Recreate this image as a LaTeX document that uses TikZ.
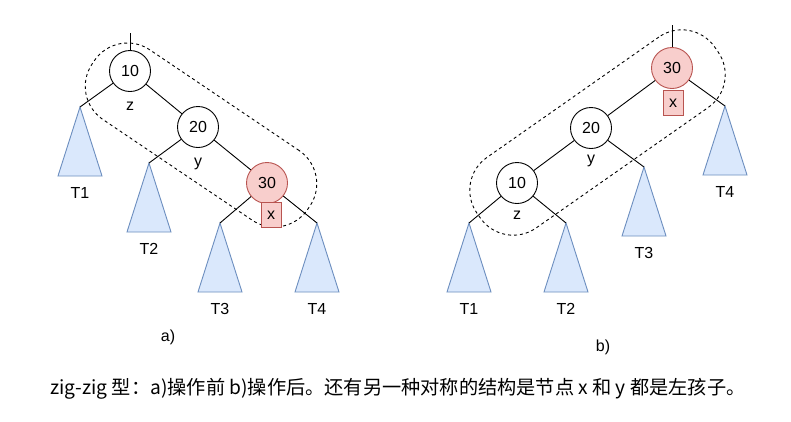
\documentclass[tikz,border=0pt]{standalone}
\usepackage{fontspec}
\setmainfont{Liberation Sans}
\newfontfamily\cjk{Noto Sans CJK SC}
\usetikzlibrary{positioning}

\definecolor{subfill}{HTML}{DAE8FC}
\definecolor{subdraw}{HTML}{6C8EBF}
\definecolor{hotfill}{HTML}{F8CECC}
\definecolor{hotdraw}{HTML}{B85450}

\begin{document}
\begin{tikzpicture}[
    x=1pt, y=-1pt,
    font=\fontsize{16}{19}\selectfont,
    % node styles
    keynode/.style={circle, draw=black, fill=white, line width=0.9pt,
      minimum size=41pt, inner sep=0pt},
    hotnode/.style={keynode, draw=hotdraw, fill=hotfill},
    tagbox/.style={rectangle, draw=hotdraw, fill=hotfill, line width=0.9pt,
      minimum width=20pt, minimum height=25pt, inner sep=0pt},
    subtree/.style={draw=subdraw, fill=subfill, line width=0.9pt},
    edge/.style={line width=0.9pt},
    hull/.style={rectangle, draw, dash pattern=on 3pt off 3pt, line width=0.9pt,
      rounded corners=40pt, minimum height=84pt, inner sep=0pt},
    caption/.style={font=\cjk\fontsize{19.2}{22}\selectfont},
  ]
  \fill[white] (0,0) rectangle (791,421);
  \useasboundingbox (0,0) rectangle (791,421);

  % ------------------------------------------------------------
  % dashed groups
  % ------------------------------------------------------------
  \node[hull, rotate=-34, minimum width=260pt] (hullA) at (201,135) {};
  \node[hull, rotate=35, minimum width=290pt, minimum height=86pt] (hullB) at (597.5,132.5) {};

  % ------------------------------------------------------------
  % subtrees
  % ------------------------------------------------------------
  \foreach \name/\ax/\ay/\lab in {t1a/80/107/T1, t2a/149/163/T2, t3a/220/223/T3, t4a/317/223/T4,
      t1b/469/223/T1, t2b/566/223/T2, t3b/644/167/T3, t4b/725/106/T4} {
    \coordinate (\name) at (\ax,\ay);
    \draw[subtree] (\name) -- ++(22,69) -- ++(-44,0) -- cycle;
    \node (\name lab) at (\ax,\ay+86) {\lab};
  }

  % ------------------------------------------------------------
  % a) before
  % ------------------------------------------------------------
  \coordinate (topA) at (130,33);
  \node[keynode] (n10a) at (130,71) {10};
  \node[keynode] (n20a) at (198,127) {20};
  \node[hotnode] (n30a) at (267,183) {30};
  \node (za) at (130,106) {z};
  \node (ya) at (198,164) {y};

  \draw[edge] (topA) -- (n10a);
  \draw[edge] (n10a) -- (t1a);
  \draw[edge] (n10a) -- (n20a);
  \draw[edge] (n20a) -- (t2a);
  \draw[edge] (n20a) -- (n30a);
  \draw[edge] (n30a) -- (t3a);
  \draw[edge] (n30a) -- (t4a);

  \node[tagbox] (xa) at (271,215) {x};
  \node (capA) at (168,337) {a)};

  % ------------------------------------------------------------
  % b) after
  % ------------------------------------------------------------
  \coordinate (topB) at (672,25);
  \node[hotnode] (n30b) at (672,68) {30};
  \node[keynode] (n20b) at (591,128) {20};
  \node[keynode] (n10b) at (517,183) {10};
  \node (yb) at (591,161) {y};
  \node (zb) at (517,215) {z};

  \draw[edge] (topB) -- (n30b);
  \draw[edge] (n30b) -- (n20b);
  \draw[edge] (n30b) -- (t4b);
  \draw[edge] (n20b) -- (n10b);
  \draw[edge] (n20b) -- (t3b);
  \draw[edge] (n10b) -- (t1b);
  \draw[edge] (n10b) -- (t2b);

  \node[tagbox] (xb) at (673,103) {x};
  \node (capB) at (603,347) {b)};

  % caption
  \node[caption] (note) at (398,389) {zig-zig 型：a)操作前 b)操作后。还有另一种对称的结构是节点 x 和 y 都是左孩子。};
\end{tikzpicture}
\end{document}
